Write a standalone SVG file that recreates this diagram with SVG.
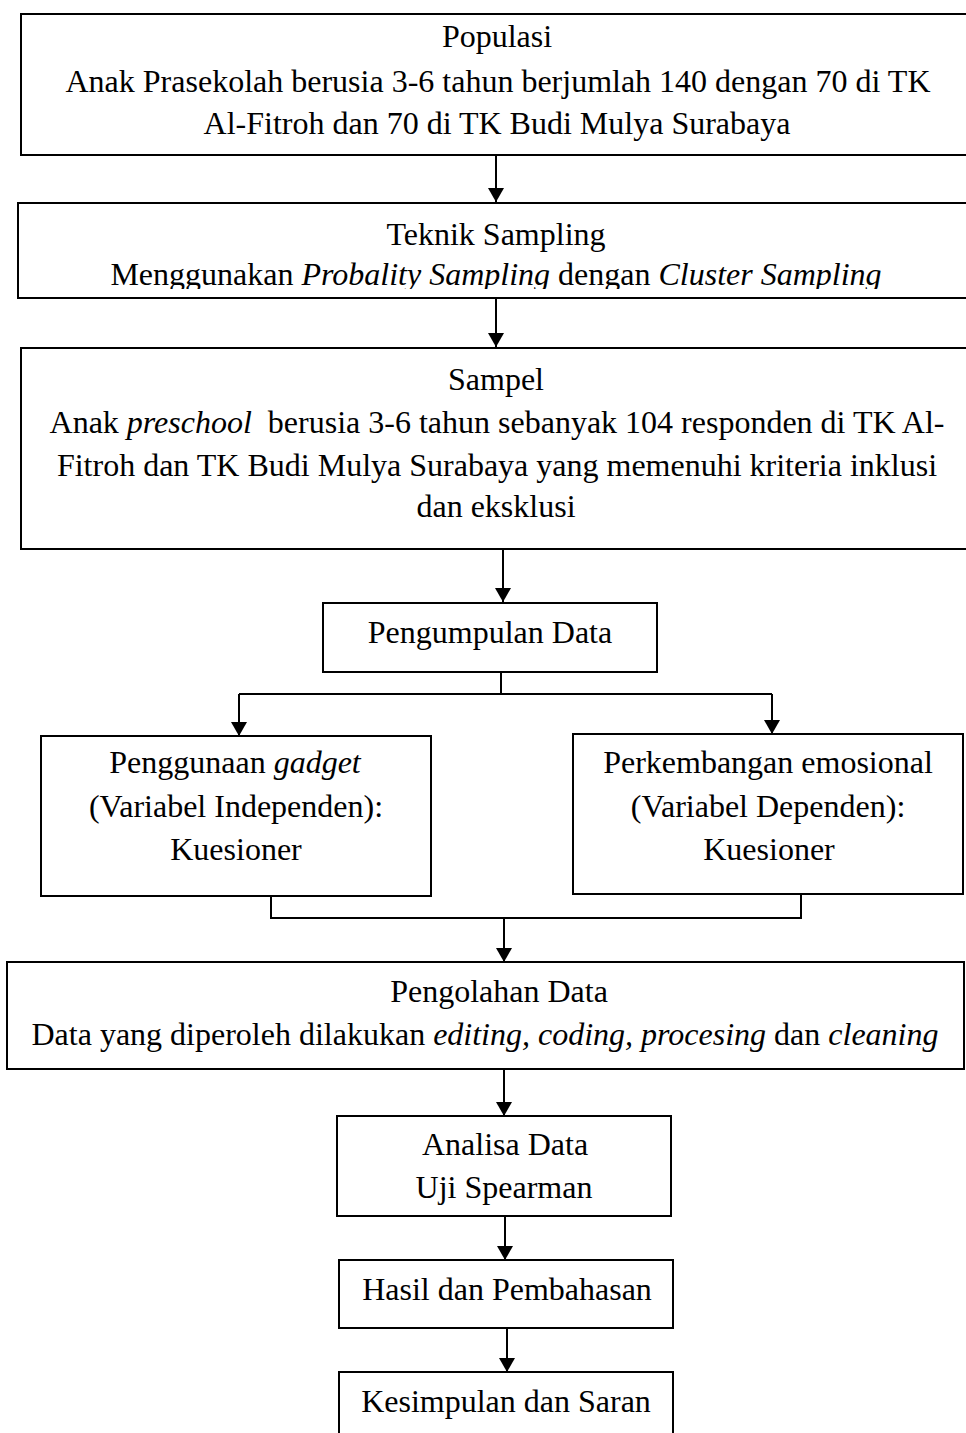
<svg xmlns="http://www.w3.org/2000/svg" width="966" height="1433" viewBox="0 0 966 1433">
<style>
.box{fill:#fff;stroke:#000;stroke-width:2}
.ln{fill:none;stroke:#000;stroke-width:2}
text{font-family:"Liberation Serif","Times New Roman",serif;font-size:32px;fill:#000;text-anchor:middle}
.i{font-style:italic}
</style>
<defs>
<marker id="ah" viewBox="0 0 14 16" refX="14" refY="8" markerWidth="14" markerHeight="16" markerUnits="userSpaceOnUse" orient="auto">
<path d="M0,0 L14,8 L0,16 Z" fill="#000"/>
</marker>
<clipPath id="c2"><rect x="0" y="202" width="966" height="87"/></clipPath>
</defs>
<rect width="966" height="1433" fill="#fff"/>
<g id="connectors">
<line class="ln" x1="496" y1="155" x2="496" y2="202" marker-end="url(#ah)"/>
<line class="ln" x1="496" y1="298" x2="496" y2="347" marker-end="url(#ah)"/>
<line class="ln" x1="503" y1="549" x2="503" y2="602" marker-end="url(#ah)"/>
<polyline class="ln" points="501,672 501,694"/>
<polyline class="ln" points="239,694 772,694"/>
<line class="ln" x1="239" y1="694" x2="239" y2="736" marker-end="url(#ah)"/>
<line class="ln" x1="772" y1="694" x2="772" y2="734" marker-end="url(#ah)"/>
<polyline class="ln" points="271,896 271,918 801,918 801,894"/>
<line class="ln" x1="504" y1="918" x2="504" y2="962" marker-end="url(#ah)"/>
<line class="ln" x1="504" y1="1069" x2="504" y2="1116" marker-end="url(#ah)"/>
<line class="ln" x1="505" y1="1216" x2="505" y2="1260" marker-end="url(#ah)"/>
<line class="ln" x1="507" y1="1329" x2="507" y2="1372" marker-end="url(#ah)"/>
</g>
<g id="populasi">
<rect class="box" x="21" y="14" width="960" height="141"/>
<text x="497" y="47">Populasi</text>
<text x="498" y="92">Anak Prasekolah berusia 3-6 tahun berjumlah 140 dengan 70 di TK</text>
<text x="497" y="134">Al-Fitroh dan 70 di TK Budi Mulya Surabaya</text>
</g>
<g id="teknik">
<rect class="box" x="18" y="203" width="960" height="95"/>
<text x="496" y="245">Teknik Sampling</text>
<text x="496" y="285" clip-path="url(#c2)">Menggunakan <tspan class="i">Probality Sampling</tspan> dengan <tspan class="i">Cluster Sampling</tspan></text>
</g>
<g id="sampel">
<rect class="box" x="21" y="348" width="960" height="201"/>
<text x="496" y="390">Sampel</text>
<text x="497" y="433" xml:space="preserve">Anak <tspan class="i">preschool</tspan>  berusia 3-6 tahun sebanyak 104 responden di TK Al-</text>
<text x="497" y="476">Fitroh dan TK Budi Mulya Surabaya yang memenuhi kriteria inklusi</text>
<text x="496" y="517">dan eksklusi</text>
</g>
<g id="pengumpulan">
<rect class="box" x="323" y="603" width="334" height="69"/>
<text x="490" y="643">Pengumpulan Data</text>
</g>
<g id="gadget">
<rect class="box" x="41" y="736" width="390" height="160"/>
<text x="235" y="773">Penggunaan <tspan class="i">gadget</tspan></text>
<text x="236" y="817">(Variabel Independen):</text>
<text x="236" y="860">Kuesioner</text>
</g>
<g id="emosional">
<rect class="box" x="573" y="734" width="390" height="160"/>
<text x="768" y="773">Perkembangan emosional</text>
<text x="768" y="817">(Variabel Dependen):</text>
<text x="769" y="860">Kuesioner</text>
</g>
<g id="pengolahan">
<rect class="box" x="7" y="962" width="957" height="107"/>
<text x="499" y="1002">Pengolahan Data</text>
<text x="485" y="1045">Data yang diperoleh dilakukan <tspan class="i">editing, coding, procesing</tspan> dan <tspan class="i">cleaning</tspan></text>
</g>
<g id="analisa">
<rect class="box" x="337" y="1116" width="334" height="100"/>
<text x="505" y="1155">Analisa Data</text>
<text x="504" y="1198">Uji Spearman</text>
</g>
<g id="hasil">
<rect class="box" x="339" y="1260" width="334" height="68"/>
<text x="507" y="1300">Hasil dan Pembahasan</text>
</g>
<g id="kesimpulan">
<rect class="box" x="339" y="1372" width="334" height="80"/>
<text x="506" y="1412">Kesimpulan dan Saran</text>
</g>
</svg>
